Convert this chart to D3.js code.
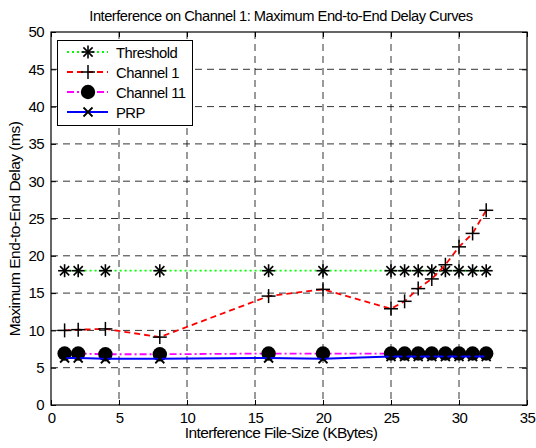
<!doctype html>
<html>
  <head>
    <script src="https://cdn.jsdelivr.net/npm/d3@7"></script>
    <style>
      body { margin: 0; background: #fff; }
      text { font-family: "Liberation Sans", Arial, sans-serif; }
    </style>
  </head>
  <body>
    <script>
      // data
      var fileSize   = [1, 2, 4, 8, 16, 20, 25, 26, 27, 28, 29, 30, 31, 32];
      var threshold  = [18, 18, 18, 18, 18, 18, 18, 18, 18, 18, 18, 18, 18, 18];
      var channel1   = [10.0, 10.1, 10.2, 9.1, 14.6, 15.5, 12.9, 13.9, 15.6, 16.9, 18.8, 21.2, 23.0, 26.1];
      var channel11  = [6.9, 6.9, 6.8, 6.8, 6.9, 6.9, 6.9, 6.9, 6.9, 6.9, 6.9, 6.9, 6.9, 6.9];
      var prp        = [6.3, 6.3, 6.2, 6.2, 6.3, 6.2, 6.5, 6.5, 6.5, 6.5, 6.5, 6.5, 6.5, 6.5];
      var xTicks = [0, 5, 10, 15, 20, 25, 30, 35];
      var yTicks = [0, 5, 10, 15, 20, 25, 30, 35, 40, 45, 50];

      var w_svg = 536, h_svg = 448;
      var p_left = 51, p_right = 527, p_top = 32, p_bottom = 405;

      var svg = d3.select("body").append("svg")
                  .attr("width", w_svg)
                  .attr("height", h_svg);

      var x = d3.scaleLinear().domain([0, 35]).range([p_left, p_right]);
      var y = d3.scaleLinear().domain([0, 50]).range([p_bottom, p_top]);

      // dashed grid
      svg.selectAll(".gx").data(xTicks.slice(1, -1)).enter().append("line")
         .attr("x1", function(d){ return x(d); }).attr("x2", function(d){ return x(d); })
         .attr("y1", p_top).attr("y2", p_bottom)
         .attr("stroke", "#000").attr("stroke-width", 0.8).attr("stroke-dasharray", "7,5");
      svg.selectAll(".gy").data(yTicks.slice(1, -1)).enter().append("line")
         .attr("y1", function(d){ return y(d); }).attr("y2", function(d){ return y(d); })
         .attr("x1", p_left).attr("x2", p_right)
         .attr("stroke", "#000").attr("stroke-width", 0.8).attr("stroke-dasharray", "7,5");

      // axes with inward ticks, box style
      function styleAxis(g) {
        g.select(".domain").remove();
        g.selectAll("text").attr("font-size", 15).attr("fill", "#000").attr("letter-spacing", -0.6)
         .attr("font-family", "'Liberation Sans', Arial, sans-serif");
        g.selectAll("line").attr("stroke", "#000");
      }
      svg.append("g").attr("transform", "translate(0," + p_bottom + ")")
         .call(d3.axisBottom(x).tickValues(xTicks).tickSizeInner(-5).tickSizeOuter(0).tickPadding(7))
         .call(styleAxis);
      svg.append("g").attr("transform", "translate(0," + p_top + ")")
         .call(d3.axisTop(x).tickValues(xTicks).tickSizeInner(-5).tickSizeOuter(0).tickFormat(""))
         .call(styleAxis);
      svg.append("g").attr("transform", "translate(" + p_left + ",0)")
         .call(d3.axisLeft(y).tickValues(yTicks).tickSizeInner(-5).tickSizeOuter(0).tickPadding(7))
         .call(styleAxis);
      svg.append("g").attr("transform", "translate(" + p_right + ",0)")
         .call(d3.axisRight(y).tickValues(yTicks).tickSizeInner(-5).tickSizeOuter(0).tickFormat(""))
         .call(styleAxis);
      svg.append("rect").attr("x", p_left).attr("y", p_top)
         .attr("width", p_right - p_left).attr("height", p_bottom - p_top)
         .attr("fill", "none").attr("stroke", "#000").attr("stroke-width", 1.2);

      // markers
      function drawMarker(g, kind, cx, cy) {
        if (kind === "star") {
          var r = 6.5;
          [[-r, 0, r, 0], [0, -r, 0, r], [-4.6, -4.6, 4.6, 4.6], [-4.6, 4.6, 4.6, -4.6]].forEach(function(s){
            g.append("line").attr("x1", cx + s[0]).attr("y1", cy + s[1]).attr("x2", cx + s[2]).attr("y2", cy + s[3])
             .attr("stroke", "#000").attr("stroke-width", 1.6);
          });
        } else if (kind === "plus") {
          var r = 7;
          [[-r, 0, r, 0], [0, -r, 0, r]].forEach(function(s){
            g.append("line").attr("x1", cx + s[0]).attr("y1", cy + s[1]).attr("x2", cx + s[2]).attr("y2", cy + s[3])
             .attr("stroke", "#000").attr("stroke-width", 1.5);
          });
        } else if (kind === "dot") {
          g.append("circle").attr("cx", cx).attr("cy", cy).attr("r", 7.2).attr("fill", "#000");
        } else if (kind === "x") {
          var r = 4.5;
          [[-r, -r, r, r], [-r, r, r, -r]].forEach(function(s){
            g.append("line").attr("x1", cx + s[0]).attr("y1", cy + s[1]).attr("x2", cx + s[2]).attr("y2", cy + s[3])
             .attr("stroke", "#000").attr("stroke-width", 1.8);
          });
        }
      }

      var series = [
        { name: "Threshold",  values: threshold, color: "#00ff00", dash: "2,3",       width: 1.8, marker: "star" },
        { name: "Channel 1",  values: channel1,  color: "#ff0000", dash: "6,4",       width: 1.8, marker: "plus" },
        { name: "Channel 11", values: channel11, color: "#ff00ff", dash: "7,3,2,3",   width: 1.8, marker: "dot" },
        { name: "PRP",        values: prp,       color: "#0000ff", dash: null,        width: 2,   marker: "x" }
      ];

      var line = d3.line()
                   .x(function(d){ return x(d[0]); })
                   .y(function(d){ return y(d[1]); });

      series.forEach(function(s) {
        var pts = fileSize.map(function(f, i){ return [f, s.values[i]]; });
        var g = svg.append("g");
        g.append("path").attr("d", line(pts))
         .attr("fill", "none").attr("stroke", s.color).attr("stroke-width", s.width)
         .attr("stroke-dasharray", s.dash);
        pts.forEach(function(p){ drawMarker(g, s.marker, x(p[0]), y(p[1])); });
      });

      // legend
      var lg = svg.append("g");
      lg.append("rect").attr("x", 57.5).attr("y", 40.5).attr("width", 135).attr("height", 85)
        .attr("fill", "#fff").attr("stroke", "#000").attr("stroke-width", 1);
      series.forEach(function(s, i) {
        var ly = 52 + i * 20;
        lg.append("line").attr("x1", 67).attr("x2", 108).attr("y1", ly).attr("y2", ly)
          .attr("stroke", s.color).attr("stroke-width", s.width).attr("stroke-dasharray", s.dash);
        drawMarker(lg, s.marker, 88, ly);
        lg.append("text").attr("x", 116).attr("y", ly + 5.5).attr("font-size", 14.8)
          .attr("letter-spacing", -0.5).text(s.name);
      });

      // titles
      svg.append("text").attr("x", (p_left + p_right) / 2 - 8).attr("y", 21)
         .attr("text-anchor", "middle").attr("font-size", 14.7).attr("letter-spacing", -0.5)
         .text("Interference on Channel 1: Maximum End-to-End Delay Curves");
      svg.append("text").attr("x", 281).attr("y", 438)
         .attr("text-anchor", "middle").attr("font-size", 15.5).attr("letter-spacing", -0.6)
         .text("Interference File-Size (KBytes)");
      svg.append("text").attr("transform", "translate(20,229) rotate(-90)")
         .attr("text-anchor", "middle").attr("font-size", 15.5).attr("letter-spacing", -0.5)
         .text("Maximum End-to-End Delay (ms)");
    </script>
  </body>
</html>
